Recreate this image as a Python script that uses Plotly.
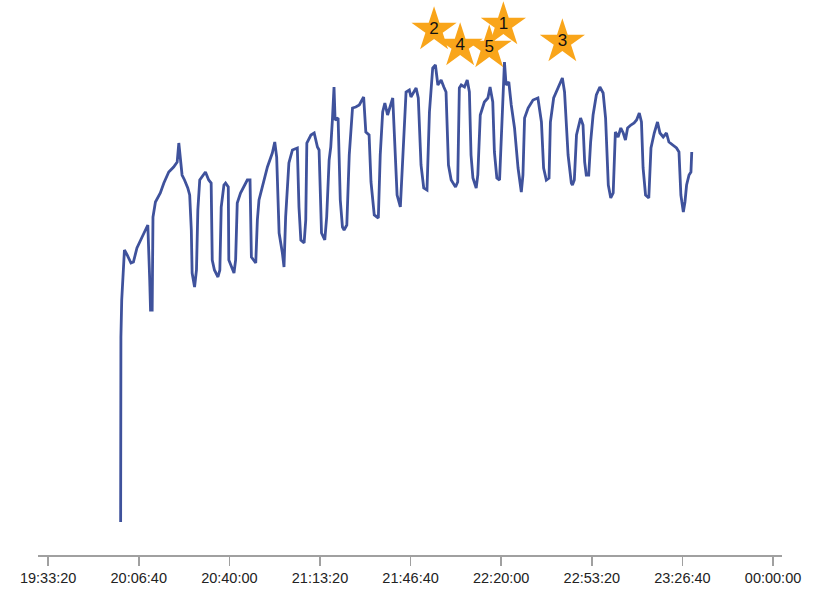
import pandas as pd
import plotly.graph_objects as go

# minutes after 20:00:00 and measured value
minutes = [0.0, 0.1, 0.4, 0.9, 1.4, 2.4, 3.8, 4.7, 6.0, 7.9, 9.5, 10.0, 10.7, 11.0, 11.6, 11.9,
           12.8, 14.6, 15.9, 17.7, 19.5, 20.8, 21.4, 22.0, 22.6, 23.5, 24.7, 25.4, 26.0, 26.3,
           27.2, 27.9, 28.4, 29.1, 30.4, 31.2, 32.4, 33.3, 33.7, 34.5, 35.8, 36.5, 37.0, 38.0,
           38.6, 39.6, 39.8, 41.7, 42.3, 42.9, 44.1, 46.6, 47.6, 48.1, 49.7, 50.3, 50.9, 52.7,
           54.0, 55.8, 56.7, 57.4, 58.3, 59.5, 60.1, 60.7, 61.9, 63.2, 65.0, 65.6, 66.3, 67.5,
           68.1, 68.5, 70.0, 71.2, 72.4, 73.0, 73.4, 73.9, 75.1, 75.8, 76.7, 77.3, 77.9, 78.5,
           78.9, 80.0, 80.8, 81.6, 82.2, 83.2, 84.1, 85.3, 86.5, 87.8, 89.4, 90.2, 91.4, 92.1,
           93.3, 94.8, 95.5, 96.4, 97.2, 98.2, 100.1, 100.9, 101.7, 102.9, 103.8, 105.0, 106.2,
           106.8, 108.7, 109.5, 110.5, 111.5, 112.7, 113.6, 114.8, 115.8, 116.7, 117.9, 118.9,
           119.7, 120.6, 121.6, 123.2, 124.0, 124.6, 125.3, 126.5, 127.5, 128.3, 128.9, 129.6,
           130.8, 131.4, 132.3, 133.8, 135.1, 135.9, 136.9, 137.5, 138.4, 139.4, 140.4, 141.2,
           141.8, 142.8, 143.7, 144.9, 146.2, 147.4, 148.0, 148.6, 149.9, 151.7, 153.5, 154.8,
           155.6, 156.6, 157.6, 158.1, 159.3, 160.9, 162.5, 163.3, 164.6, 165.8, 166.2, 166.9,
           167.7, 169.2, 170.1, 170.7, 171.3, 172.2, 172.9, 173.8, 175.0, 176.3, 177.5, 178.4,
           179.4, 180.3, 181.2, 182.0, 183.0, 184.0, 184.9, 185.7, 186.5, 187.7, 188.9, 189.8,
           190.8, 191.6, 192.2, 193.1, 194.3, 195.1, 196.3, 197.5, 198.4, 199.6, 200.8, 201.7,
           203.3, 204.5, 205.4, 206.1, 207.0, 207.6, 208.2, 209.1, 209.8, 210.1]
values = [3.3, 21.8, 25.5, 28.2, 30.5, 30.0, 29.2, 29.3, 30.7, 31.8, 32.8, 33.0, 27.5, 24.5, 24.5, 33.8,
          35.3, 36.2, 37.2, 38.3, 38.8, 39.3, 41.2, 39.2, 38.0, 37.5, 36.7, 36.0, 32.5, 28.2,
          26.8, 28.5, 34.5, 37.5, 38.0, 38.3, 37.5, 37.2, 29.5, 28.5, 27.8, 28.5, 34.8, 37.0,
          37.2, 36.8, 29.5, 28.2, 29.5, 35.2, 36.2, 37.5, 37.5, 29.8, 29.2, 33.5, 35.5, 37.5,
          38.8, 40.2, 41.3, 39.8, 32.2, 30.2, 28.8, 33.8, 39.2, 40.5, 40.7, 34.8, 31.5, 31.2,
          33.5, 41.2, 42.0, 42.2, 40.8, 40.5, 35.5, 32.2, 31.5, 33.8, 39.5, 40.8, 43.5, 46.8,
          43.5, 43.7, 35.5, 32.8, 32.5, 33.0, 40.0, 44.7, 44.8, 45.0, 45.8, 42.3, 42.0, 37.3,
          34.0, 33.7, 40.0, 44.3, 45.2, 44.0, 45.7, 41.3, 36.0, 34.8, 40.0, 46.3, 46.5,
          45.8, 46.7, 45.7, 39.0, 36.7, 36.5, 44.3, 48.7, 49.0, 47.0, 47.5, 46.8,
          46.3, 39.0, 37.5, 36.8, 37.3, 46.7, 47.0, 46.8, 47.5, 46.3, 40.0, 37.7,
          36.7, 38.0, 44.0, 45.3, 45.7, 46.8, 45.3, 40.3, 37.7, 37.5, 43.3, 49.3,
          47.0, 47.3, 45.0, 42.7, 38.7, 36.3, 38.0, 43.7, 44.7, 45.5, 45.7, 43.3,
          38.7, 37.5, 37.7, 43.3, 45.7, 46.7, 47.7, 46.3, 40.0, 37.2, 37.0, 37.5,
          42.0, 43.7, 43.0, 39.3, 38.0, 38.0, 41.3, 44.0, 46.0, 46.8, 46.2, 43.7,
          37.0, 35.7, 36.2, 42.3, 41.8, 42.7, 42.2, 41.5, 42.7, 43.0, 43.2, 43.5,
          44.2, 43.3, 38.7, 36.0, 35.7, 40.7, 42.2, 43.3, 42.2, 41.8, 42.2, 41.3,
          41.0, 40.7, 40.3, 36.0, 34.3, 35.3, 37.0, 38.0, 38.3, 40.3]

# star annotations (rank, time in minutes after 20:00, value)
star_labels = ["1", "2", "3", "4", "5"]
star_minutes = [140.8, 115.3, 162.5, 124.9, 135.6]
star_values = [53.0, 52.5, 51.3, 50.9, 50.7]

tick_labels = ["19:33:20", "20:06:40", "20:40:00", "21:13:20", "21:46:40",
               "22:20:00", "22:53:20", "23:26:40", "00:00:00"]

base = pd.Timestamp("2024-01-01 20:00:00")
times = [base + pd.Timedelta(minutes=m) for m in minutes]
star_times = [base + pd.Timedelta(minutes=m) for m in star_minutes]

fig = go.Figure()
fig.add_trace(go.Scatter(
    x=times, y=values, mode="lines",
    line=dict(color="#3f529c", width=2.8),
    hoverinfo="skip", showlegend=False,
))
fig.add_trace(go.Scatter(
    x=star_times, y=star_values, mode="markers+text",
    marker=dict(symbol="star", size=34, color="#f9a51a", line=dict(width=0)),
    text=star_labels, textposition="middle center",
    textfont=dict(family="Arial, Liberation Sans, sans-serif", size=17, color="#111"),
    hoverinfo="skip", showlegend=False,
))

tick_vals = [pd.Timestamp("2024-01-01 19:33:20") + pd.Timedelta(seconds=2000 * i)
             for i in range(len(tick_labels))]

fig.update_layout(
    width=826, height=608,
    margin=dict(l=38, r=44, t=0, b=53),
    paper_bgcolor="white", plot_bgcolor="white",
    font=dict(family="Arial, Liberation Sans, sans-serif", size=14, color="#222"),
    xaxis=dict(
        range=[base - pd.Timedelta(minutes=30.4), base + pd.Timedelta(minutes=243.3)],
        tickmode="array", tickvals=tick_vals, ticktext=tick_labels,
        showgrid=False, zeroline=False,
        showline=True, linecolor="#a0a0a0", linewidth=1.5,
        ticks="outside", ticklen=9, tickcolor="#a0a0a0", tickwidth=1.5,
        tickfont=dict(size=14.5, color="#222"),
    ),
    yaxis=dict(range=[0, 55.5], visible=False, showgrid=False, zeroline=False),
    hovermode=False,
)

fig.write_html("out.html", config={"displayModeBar": False, "staticPlot": True},
               post_script="document.body.style.margin='0';document.body.style.overflow='hidden';")
